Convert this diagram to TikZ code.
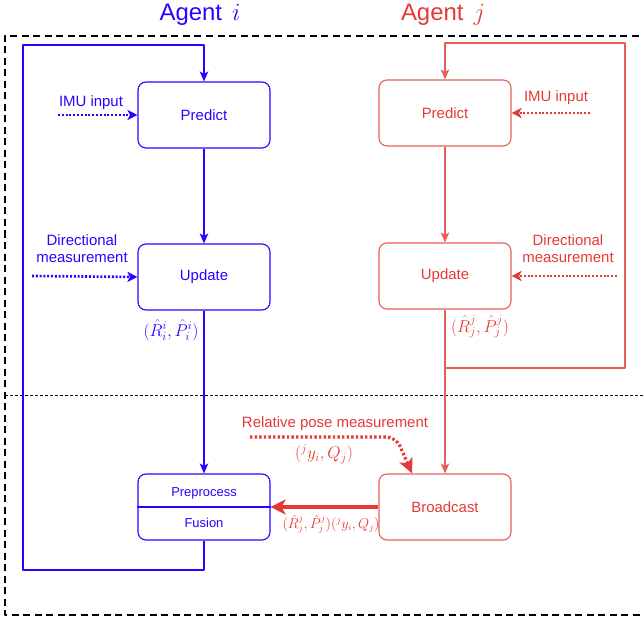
\documentclass[tikz,border=0pt]{standalone}
\usepackage{fontspec}
\setmainfont{Liberation Sans}
\usetikzlibrary{arrows.meta,positioning}
\definecolor{agblue}{RGB}{45,0,255}
\definecolor{agred}{RGB}{229,57,53}
\definecolor{agredln}{RGB}{232,95,90}
\tikzset{
  stepbox/.style={draw,rounded corners=8bp,minimum width=132bp,minimum height=66bp,
    line width=1.1bp,font=\fontsize{15}{18}\selectfont},
  flow/.style={line width=1.1bp},
  inputarrow/.style={line width=2.6bp,dash pattern=on 2bp off 1.8bp,
    -{Stealth[length=10bp,width=10bp,inset=2.5bp]}},
  lbl/.style={font=\fontsize{15}{17}\selectfont,align=center},
  mlbl/.style={font=\fontsize{18}{21}\selectfont}
}
\begin{document}
\begin{tikzpicture}[x=1bp,y=1bp,>={Stealth[length=10bp,width=8.5bp,inset=2.5bp]},line join=bevel]
  \useasboundingbox (0,0) rectangle (643,619);
%%
  % Frame
  \draw [line width=2bp,dash pattern=on 7bp off 4.5bp] (650,583) -- (5,583) -- (5,4) -- (650,4);
  \draw [line width=0.8bp,dash pattern=on 3bp off 2bp] (5,224) -- (643,224);
  % Titles
  \node [agblue,font=\fontsize{24}{28}\selectfont] (titlei) at (200,604) {Agent\hspace{10bp}$i$};
  \node [agred,font=\fontsize{24}{28}\selectfont] (titlej) at (443,604) {Agent\hspace{10bp}$j$};
%%
  % Node: Predict (agent i)
  \node [stepbox,agblue] (predi) at (204,504) {Predict};
  % Node: Update (agent i)
  \node [stepbox,agblue] (updi) at (204,342) {Update};
  % Node: Preprocess / Fusion
  \node [stepbox,agblue] (fuse) at (204,112) {};
  \draw [agblue,flow] (fuse.west) -- (fuse.east);
  \node [agblue,font=\fontsize{13}{15}\selectfont] (prep) at (204,126) {Preprocess};
  \node [agblue,font=\fontsize{13}{15}\selectfont] (fusion) at (204,96) {Fusion};
  % Node: Predict (agent j)
  \node [stepbox,draw=agredln,text=agred] (predj) at (445,506) {Predict};
  % Node: Update (agent j)
  \node [stepbox,draw=agredln,text=agred] (updj) at (445,343) {Update};
  % Node: Broadcast
  \node [stepbox,draw=agredln,text=agred] (bcast) at (445,112) {Broadcast};
%%
  % Edge: Predict -> Update (agent i)
  \draw [agblue,flow,->] (predi) -- (updi);
  % Edge: Update -> Preprocess (agent i)
  \draw [agblue,flow,->] (updi) -- (fuse);
  \node [agblue,mlbl] (esti) at (171,289) {$(\hat R^i_i,\hat P^i_i)$};
  % Edge: Fusion -> Predict (loop)
  \coordinate (loopi) at (23,49);
  \draw [agblue,flow,->] (fuse.south) |- (loopi) |- (204,574) -- (predi.north);
  % Edge: IMU input -> Predict (agent i)
  \node [agblue,lbl] (imui) at (91,516) {IMU input};
  \coordinate (imuia) at (58,504);
  \draw [agblue,inputarrow] (imuia) -- (predi.west);
  % Edge: Directional measurement -> Update (agent i)
  \node [agblue,lbl] (diri) at (82,370) {Directional\\measurement};
  \coordinate (diria) at (32,343);
  \draw [agblue,inputarrow] (diria) -- (updi.west);
%%
  % Edge: Predict -> Update (agent j)
  \draw [agredln,flow,->] (predj) -- (updj);
  \node [agred,mlbl] (estj) at (480,292) {$(\hat R^j_j,\hat P^j_j)$};
  % Edge: Update -> Predict (loop) and Update -> Broadcast
  \coordinate (junj) at (445,251);
  \draw [agredln,flow,->] (updj.south) -- (junj) -| (625,576) -- (445,576) -- (predj.north);
  \draw [agredln,flow,->] (junj) -- (bcast.north);
  % Edge: IMU input -> Predict (agent j)
  \node [agred,lbl] (imuj) at (556,521) {IMU input};
  \coordinate (imuja) at (590,506);
  \draw [agred,inputarrow] (imuja) -- (predj.east);
  % Edge: Directional measurement -> Update (agent j)
  \node [agred,lbl] (dirj) at (568,370) {Directional\\measurement};
  \coordinate (dirja) at (617,343);
  \draw [agred,inputarrow] (dirja) -- (updj.east);
%%
  % Edge: Relative pose measurement -> Broadcast
  \node [agred,lbl] (relp) at (335,195) {Relative pose measurement};
  \coordinate (relpa) at (250,182);
  \coordinate (relpb) at (396,182);
  \draw [agred,line width=3.2bp,dash pattern=on 2.4bp off 2.2bp,rounded corners=10bp,
    -{Stealth[length=15bp,width=14bp,inset=4bp]}]
    (relpa) -- (relpb) -- ([xshift=-33bp]bcast.north);
  \node [agred,font=\fontsize{18}{21}\selectfont] (relpy) at (324,165) {$({}^jy_i,Q_j)$};
  % Edge: Broadcast -> Preprocess
  \draw [agred,line width=3.5bp,-{Stealth[length=15bp,width=15bp,inset=4bp]}] (bcast.west) -- (fuse.east);
  \node [agred,font=\fontsize{13.5}{16}\selectfont] (sent) at (331,95)
    {$(\hat R^j_j,\hat P^j_j)({}^jy_i,Q_j)$};
%
\end{tikzpicture}
\end{document}
